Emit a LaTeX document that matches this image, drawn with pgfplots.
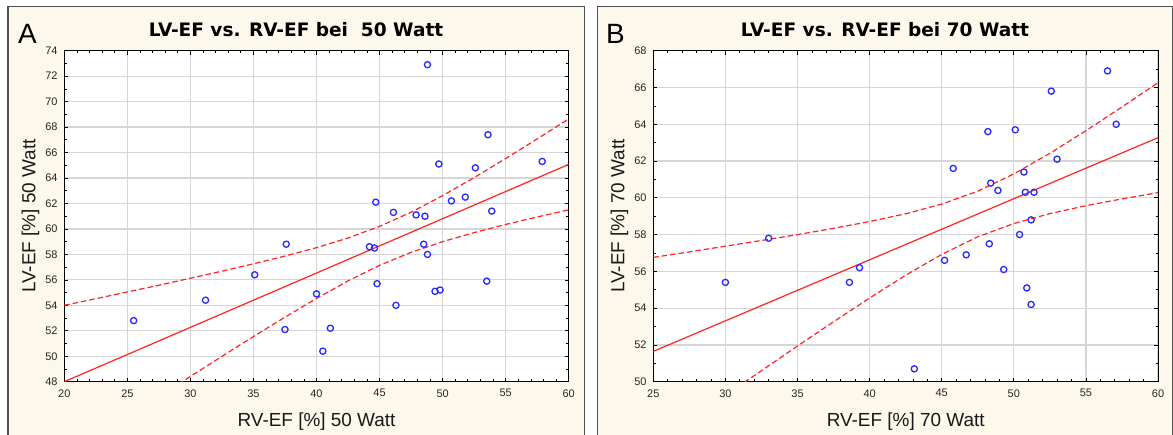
\documentclass[border=0pt]{standalone}
\usepackage{pgfplots}
\usepackage{pgfplotstable}
\pgfplotsset{compat=1.18}
\usepackage{fontspec}
\setmainfont{Liberation Sans}
\newfontfamily\titlefont{DejaVu Sans}
\definecolor{cream}{RGB}{253,248,236}
\definecolor{framegray}{RGB}{80,80,80}
\definecolor{ptblue}{RGB}{40,40,255}
\definecolor{fitred}{RGB}{255,35,35}
\definecolor{gridgray}{RGB}{214,214,214}

\pgfplotstableread{
x y
48.8 72.9
53.6 67.4
49.7 65.1
57.9 65.3
52.6 64.8
50.7 62.2
51.8 62.5
44.7 62.1
46.1 61.3
47.9 61.1
48.6 61.0
53.9 61.4
37.6 58.8
35.1 56.4
31.2 54.4
25.5 52.8
37.5 52.1
44.2 58.6
44.6 58.5
48.5 58.8
48.8 58.0
44.8 55.7
53.5 55.9
49.4 55.1
49.8 55.2
40.0 54.9
46.3 54.0
41.1 52.2
40.5 50.4
}\ptsA

\pgfplotstableread{
x lo hi
20 42.00 54.00
22.5 43.61 54.52
25 45.22 55.05
27.5 46.82 55.58
30 48.41 56.13
32.5 49.99 56.68
35 51.55 57.26
37.5 53.07 57.87
40 54.54 58.53
42.5 55.92 59.29
45 57.14 60.20
47.5 58.16 61.31
50 59.00 62.61
52.5 59.71 64.03
55 60.35 65.53
57.5 60.94 67.07
60 61.50 68.64
}\bandA

\pgfplotstableread{
x y
56.5 66.9
52.6 65.8
57.1 64.0
48.2 63.6
50.1 63.7
53.0 62.1
45.8 61.6
50.7 61.4
48.4 60.8
48.9 60.4
50.8 60.3
51.4 60.3
51.2 58.8
50.4 58.0
48.3 57.5
46.7 56.9
45.2 56.6
49.3 56.1
50.9 55.1
51.2 54.2
43.1 50.7
33.0 57.8
30.0 55.4
38.6 55.4
39.3 56.2
}\ptsB

\pgfplotstableread{
x lo hi
25 46.54 56.76
27.5 47.90 57.06
30 49.26 57.37
32.5 50.60 57.68
35 51.94 58.00
37.5 53.26 58.34
40 54.55 58.71
42.5 55.79 59.13
45 56.92 59.66
47.5 57.88 60.36
50 58.60 61.30
52.5 59.14 62.42
55 59.57 63.65
57.5 59.94 64.94
60 60.28 66.26
}\bandB

\pgfplotsset{
  panel/.style={
    anchor=south west, scale only axis, height=331bp,
    grid=major, major grid style={gridgray, line width=1.2bp},
    axis line style={black, line width=1bp},
    tick align=inside, major tick length=4bp, minor tick length=2.5bp,
    tick style={black, line width=0.7bp},
    minor x tick num=4, minor y tick num=1,
    axis background/.style={fill=white},
    tick label style={font=\fontsize{11}{13}\selectfont, text=black!85},
    /pgf/number format/assume math mode=true,
    xticklabel style={yshift=-4.2bp},
    yticklabel style={xshift=-3.2bp},
    label style={font=\fontsize{19}{22}\selectfont, text=black!90},
    xlabel style={at={(axis description cs:0.5,-0.136)}, anchor=base},
    ylabel style={at={(axis description cs:-0.0571,0.5)}, anchor=base},
  },
  pts/.style={only marks, mark=o, mark size=3.1bp, mark options={draw=ptblue, line width=1.3bp}},
  fit/.style={fitred, line width=1.2bp},
  band/.style={fitred, line width=1.2bp, dash pattern=on 5.5bp off 3bp},
}

\begin{document}
\begin{tikzpicture}
\useasboundingbox (0,0) rectangle (1173bp,-435bp);
\fill[white] (0,0) rectangle (1173bp,-435bp);
\fill[cream] (8bp,-6.7bp) rectangle (584.3bp,-436bp);
\draw[framegray, line width=1.4bp] (8bp,-440bp) -- (8bp,-6.7bp) -- (584.3bp,-6.7bp) -- (584.3bp,-440bp);
\fill[cream] (597.3bp,-6.7bp) rectangle (1173bp,-436bp);
\draw[framegray, line width=1.4bp] (597.3bp,-440bp) -- (597.3bp,-6.7bp) -- (1172.3bp,-6.7bp) -- (1172.3bp,-440bp);

\node[anchor=base west, inner sep=0, font=\fontsize{28}{30}\selectfont] at (18bp,-43.3bp) {A};
\node[anchor=base west, inner sep=0, font=\fontsize{28}{30}\selectfont] at (606bp,-43.3bp) {B};
\node[anchor=base, inner sep=0, font=\titlefont\bfseries\fontsize{18.6}{20}\selectfont] at (296bp,-36.7bp) {LV-EF vs. RV-EF bei\ \ 50 Watt};
\node[anchor=base, inner sep=0, font=\titlefont\bfseries\fontsize{18.6}{20}\selectfont] at (885bp,-36.7bp) {LV-EF vs. RV-EF bei 70 Watt};

\begin{axis}[panel, at={(64.3bp,-381.7bp)}, width=504.4bp,
  xmin=20, xmax=60, ymin=48, ymax=74,
  xtick={20,25,...,60}, ytick={48,50,...,74},
  xlabel={RV-EF [\%] 50 Watt}, ylabel={LV-EF [\%] 50 Watt}]
\addplot[band] table[x=x, y=hi] {\bandA};
\addplot[band] table[x=x, y=lo] {\bandA};
\addplot[fit] coordinates {(20,48.0) (60,65.07)};
\addplot[pts] table[x=x, y=y] {\ptsA};
\end{axis}

\begin{axis}[panel, at={(653.3bp,-381.7bp)}, width=504.7bp,
  xmin=25, xmax=60, ymin=50, ymax=68,
  xtick={25,30,...,60}, ytick={50,52,...,68},
  xlabel={RV-EF [\%] 70 Watt}, ylabel={LV-EF [\%] 70 Watt}]
\addplot[band] table[x=x, y=hi] {\bandB};
\addplot[band] table[x=x, y=lo] {\bandB};
\addplot[fit] coordinates {(25,51.65) (60,63.27)};
\addplot[pts] table[x=x, y=y] {\ptsB};
\end{axis}
\end{tikzpicture}
\end{document}
